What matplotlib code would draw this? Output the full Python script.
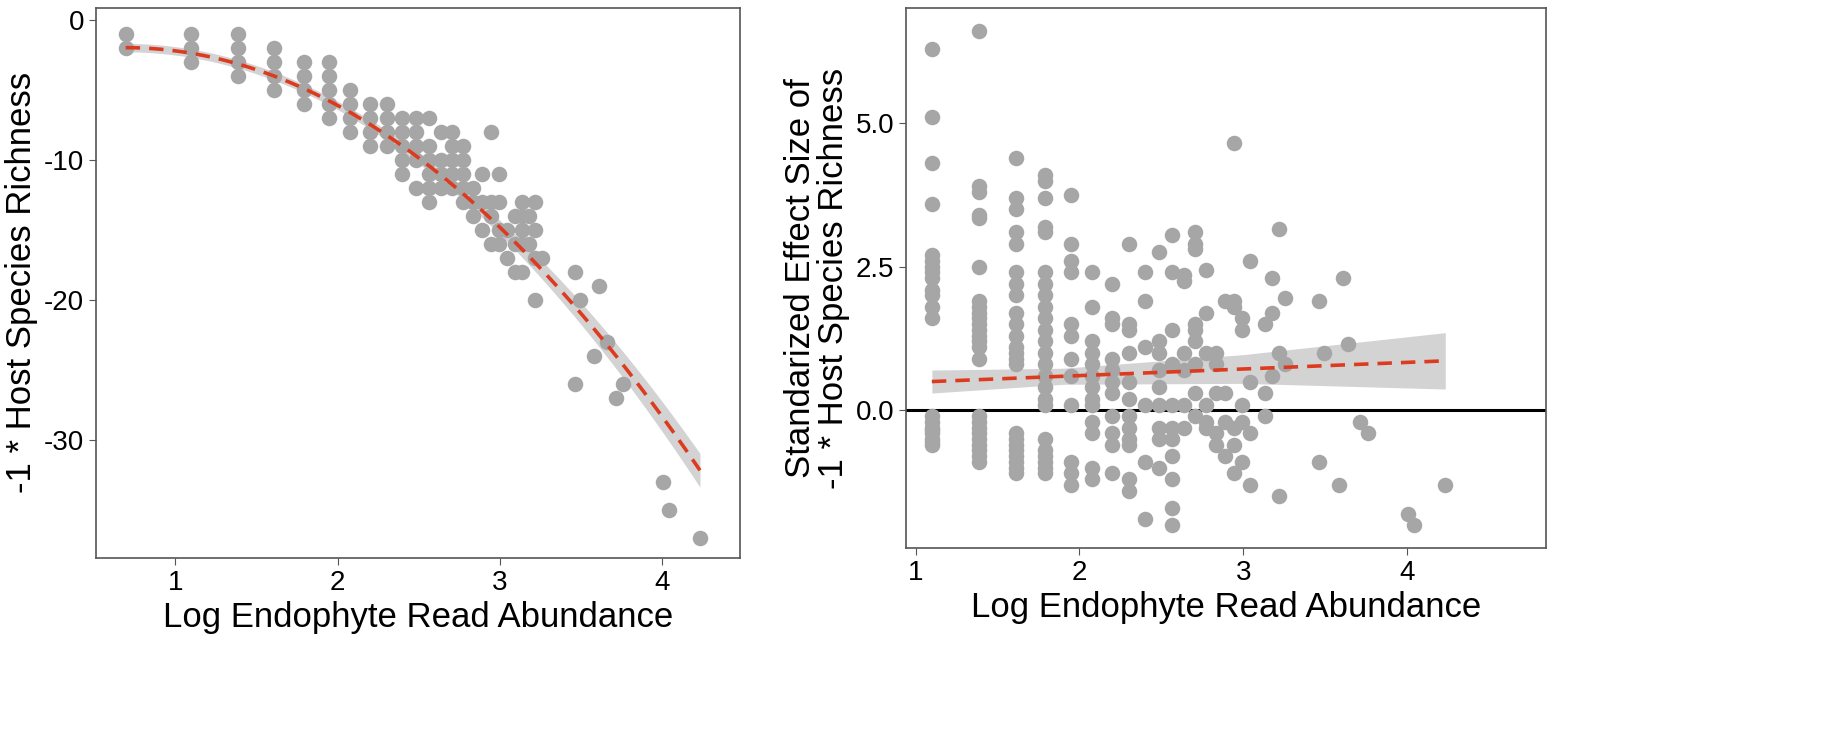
import numpy as np
import matplotlib.pyplot as plt

plt.rcParams['font.family'] = ['Liberation Sans', 'DejaVu Sans']

# left panel: counts per ln(n) column -> -1 * host species richness
left_n = [2, 3, 4, 5, 6, 7, 8, 9, 10, 11, 12, 13, 14, 15, 16, 17, 18, 19, 20,
          21, 22, 23, 24, 25, 26, 32, 33, 36, 37, 39, 41, 43, 55, 57, 69]
left_y = [[-1, -2], [-1, -2, -3], [-1, -2, -3, -4], [-2, -3, -4, -5],
          [-3, -4, -5, -6], [-3, -4, -5, -6, -7], [-5, -6, -7, -8],
          [-6, -7, -8, -9], [-6, -7, -8, -9], [-7, -8, -9, -10, -11],
          [-7, -8, -9, -10, -12], [-7, -9, -10, -11, -12, -13],
          [-8, -10, -11, -12], [-8, -9, -10, -11, -12], [-9, -10, -11, -12, -13],
          [-12, -13, -14], [-11, -13, -15], [-8, -13, -14, -16],
          [-11, -13, -15, -16], [-15, -17], [-14, -16, -18],
          [-13, -14, -15, -16, -18], [-14, -16], [-13, -15, -17, -20], [-17],
          [-18, -26], [-20], [-24], [-19], [-23], [-27], [-26], [-33], [-35], [-37]]

# right panel: standardized effect size per ln(n) column
right_n = [3, 4, 5, 6, 7, 8, 9, 10, 11, 12, 13, 14, 15, 16, 17, 18, 19, 20,
           21, 23, 24, 25, 26, 32, 33, 36, 37, 38, 41, 43, 55, 57, 69]
right_y = [
    [6.3, 5.1, 4.3, 3.6, 2.7, 2.6, 2.5, 2.4, 2.3, 2.1, 2.0, 1.8, 1.6,
     -0.1, -0.2, -0.3, -0.35, -0.4, -0.5, -0.55, -0.6],
    [6.6, 3.9, 3.8, 3.4, 3.35, 2.5, 1.9, 1.8, 1.7, 1.6, 1.5, 1.4, 1.3, 1.2, 1.1, 0.9,
     -0.1, -0.2, -0.3, -0.4, -0.5, -0.6, -0.7, -0.8, -0.9],
    [4.4, 3.7, 3.5, 3.1, 2.9, 2.4, 2.2, 2.0, 1.7, 1.5, 1.3, 1.1, 1.0, 0.9, 0.8,
     -0.4, -0.5, -0.6, -0.7, -0.8, -0.9, -1.0, -1.1],
    [4.1, 4.0, 3.7, 3.2, 3.1, 2.4, 2.2, 2.0, 1.8, 1.6, 1.4, 1.2, 1.0, 0.8, 0.6, 0.4,
     0.2, 0.1, -0.5, -0.7, -0.8, -0.9, -1.0, -1.1],
    [3.75, 2.9, 2.6, 2.4, 1.5, 1.3, 0.9, 0.6, 0.1, -0.9, -1.1, -1.3],
    [2.4, 1.8, 1.2, 1.0, 0.8, 0.6, 0.4, 0.2, 0.1, -0.2, -0.4, -1.0, -1.2],
    [2.2, 1.6, 1.5, 0.9, 0.7, 0.5, 0.3, -0.1, -0.4, -0.6, -1.1],
    [2.9, 1.5, 1.4, 1.0, 0.5, 0.2, -0.1, -0.3, -0.5, -0.6, -1.2, -1.4],
    [2.4, 1.9, 1.1, 0.1, -0.9, -1.9],
    [2.75, 1.2, 1.0, 0.7, 0.4, 0.1, -0.3, -0.5, -1.0],
    [3.05, 2.4, 1.4, 0.8, 0.1, -0.3, -0.5, -0.8, -1.2, -1.7, -2.0],
    [2.35, 2.25, 1.0, 0.7, 0.1, -0.3],
    [3.1, 2.9, 2.8, 1.5, 1.4, 1.2, 0.8, 0.3, -0.1],
    [2.45, 1.7, 1.0, 0.1, -0.2, -0.3],
    [1.0, 0.8, 0.3, -0.4, -0.6],
    [1.9, 0.3, -0.2, -0.8],
    [4.65, 1.9, 1.8, -0.3, -0.6, -1.1],
    [1.6, 1.4, 0.1, -0.2, -0.9],
    [2.6, 0.5, -0.4, -1.3],
    [1.5, 0.3, -0.1],
    [2.3, 1.7, 0.6],
    [3.15, 1.0, -1.5],
    [1.95, 0.8],
    [1.9, -0.9], [1.0], [-1.3], [2.3], [1.15], [-0.2], [-0.4], [-1.8], [-2.0], [-1.3]]

# fitted curves (quadratic / linear) and CI half-widths
left_fit_coef = [-2.4, 3.31, -3.14]      # y = a x^2 + b x + c
left_ci_x = [0.69, 2.0, 3.0, 4.23]
left_ci_hw = [0.3, 0.3, 0.5, 1.2]
right_fit_coef = [0.115, 0.374]          # y = a x + b
right_ci_x = [1.1, 1.9, 3.0, 4.23]
right_ci_hw = [0.2, 0.14, 0.25, 0.49]

GREY = '#a6a6a6'
RED = '#dd3b1f'
BAND = '#d3d3d3'


def flatten(ns, ys):
    x = np.concatenate([[np.log(n)] * len(v) for n, v in zip(ns, ys)])
    y = np.concatenate([np.array(v, float) for v in ys])
    return x, y


def draw(ax, ns, ys, coef, cix, cihw):
    x, y = flatten(ns, ys)
    xs = np.linspace(x.min(), x.max(), 200)
    fit = np.polyval(coef, xs)
    hw = np.interp(xs, cix, cihw)
    ax.fill_between(xs, fit - hw, fit + hw, color=BAND, lw=0, zorder=2)
    ax.scatter(x, y, s=125, color=GREY, lw=0, zorder=3)
    ax.plot(xs, fit, color=RED, ls=(0, (4, 2.5)), lw=2.6, zorder=4)


fig = plt.figure(figsize=(18.45, 7.56), dpi=100)
ax1 = fig.add_axes([0.052, 0.262, 0.349, 0.728])
ax2 = fig.add_axes([0.491, 0.275, 0.347, 0.714])

draw(ax1, left_n, left_y, left_fit_coef, left_ci_x, left_ci_hw)
ax1.set_xlim(0.51, 4.48)
ax1.set_ylim(-38.4, 0.86)
ax1.set_xticks([1, 2, 3, 4])
ax1.set_yticks([0, -10, -20, -30])
ax1.set_yticklabels(['0', '-10', '-20', '-30'])
ax1.set_xlabel('Log Endophyte Read Abundance', fontsize=25)
ax1.set_ylabel('-1 * Host Species Richness', fontsize=25)

ax2.axhline(0, color='black', lw=2.2, zorder=2.5)
draw(ax2, right_n, right_y, right_fit_coef, right_ci_x, right_ci_hw)
ax2.set_xlim(0.94, 4.85)
ax2.set_ylim(-2.4, 7.0)
ax2.set_xticks([1, 2, 3, 4])
ax2.set_yticks([0, 2.5, 5.0])
ax2.set_yticklabels(['0.0', '2.5', '5.0'])
ax2.set_xlabel('Log Endophyte Read Abundance', fontsize=25)
ax2.set_ylabel('Standarized Effect Size of\n-1 * Host Species Richness', fontsize=25,
               linespacing=1.0)

for ax in (ax1, ax2):
    for sp in ax.spines.values():
        sp.set_color('#555555')
        sp.set_linewidth(1.2)
    ax.tick_params(labelsize=20, color='#555555', length=5)

fig.savefig('out.png', dpi=100)
